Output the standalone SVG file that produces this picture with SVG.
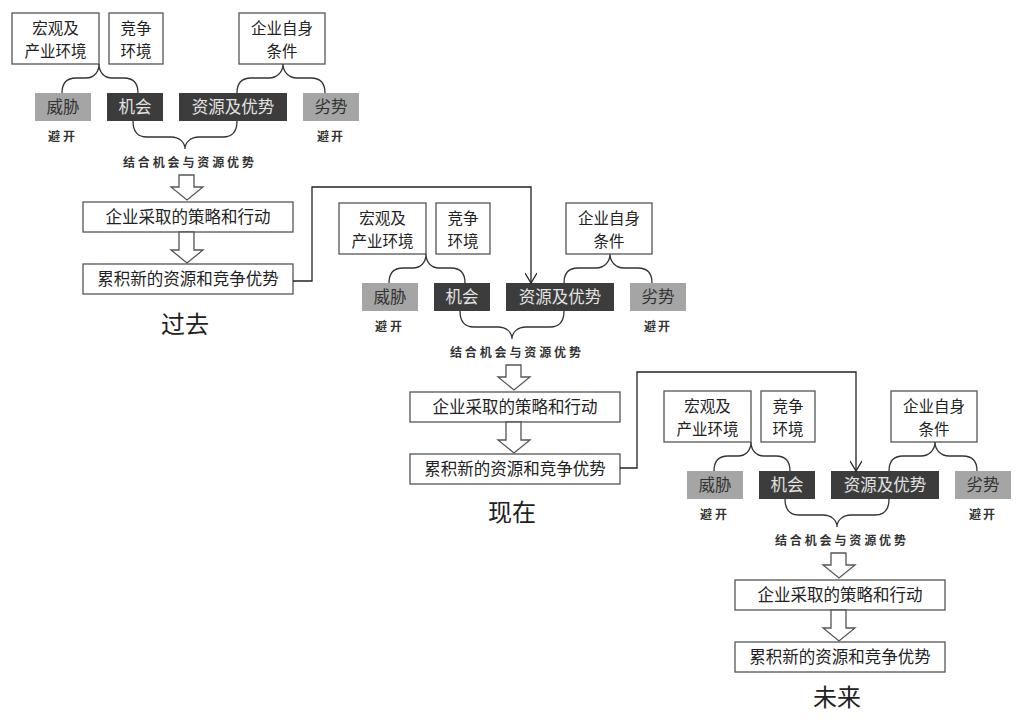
<svg xmlns="http://www.w3.org/2000/svg" width="1021" height="722" viewBox="0 0 1021 722">
<defs>
<style>
.box{fill:#fff;stroke:#555;stroke-width:1.3}
.gray{fill:#a5a5a5}
.dark{fill:#3c3c3c}
.t{font-family:"Noto Sans CJK SC",sans-serif;font-size:16.5px;fill:#222;text-anchor:middle}
.t2{font-size:15.5px}
.g{fill:#333}
.w{fill:#e2e2e2}
.s{font-family:"Noto Sans CJK SC",sans-serif;font-size:12px;font-weight:bold;fill:#333}
.title{font-family:"Noto Sans CJK SC",sans-serif;font-size:24px;fill:#222;text-anchor:middle}
.brace{fill:none;stroke:#333;stroke-width:1.3}
.hollow{fill:#fff;stroke:#555;stroke-width:1.3}
.line{fill:none;stroke:#222;stroke-width:1.3}
</style>
<marker id="arr" viewBox="0 0 12 12" refX="11" refY="6" markerWidth="12" markerHeight="12" orient="auto" markerUnits="userSpaceOnUse">
<path d="M1,0 L11,6 L1,12" fill="none" stroke="#222" stroke-width="1.3"/>
</marker>
</defs>
<rect width="1021" height="722" fill="#fff"/>

<!-- Block 1: past -->
<g id="block-past">
<g id="b1-macro"><rect class="box" x="12" y="13" width="87" height="51"/><text class="t t2" x="55.5" y="34">宏观及</text><text class="t t2" x="55.5" y="56.5">产业环境</text></g>
<g id="b1-comp"><rect class="box" x="109" y="13" width="54" height="51"/><text class="t t2" x="136" y="34">竞争</text><text class="t t2" x="136" y="56.5">环境</text></g>
<g id="b1-self"><rect class="box" x="239" y="13" width="86" height="51"/><text class="t t2" x="282" y="34">企业自身</text><text class="t t2" x="282" y="56.5">条件</text></g>
<g id="b1-threat"><rect class="gray" x="35" y="93" width="56" height="28"/><text class="t g" x="63" y="113">威胁</text></g>
<g id="b1-opp"><rect class="dark" x="107" y="93" width="56" height="28"/><text class="t w" x="135" y="113">机会</text></g>
<g id="b1-res"><rect class="dark" x="179" y="93" width="108" height="28"/><text class="t w" x="233" y="113">资源及优势</text></g>
<g id="b1-weak"><rect class="gray" x="303" y="93" width="56" height="28"/><text class="t g" x="331" y="113">劣势</text></g>
<g id="b1-avoid1"><text class="s" x="48" y="141" textLength="27" lengthAdjust="spacing">避开</text></g>
<g id="b1-avoid2"><text class="s" x="317" y="141" textLength="26" lengthAdjust="spacing">避开</text></g>
<g id="b1-combine"><text class="s" x="123" y="167" textLength="131" lengthAdjust="spacing">结合机会与资源优势</text></g>
<g id="b1-strat"><rect class="box" x="83" y="202" width="210" height="30"/><text class="t" x="188" y="223">企业采取的策略和行动</text></g>
<g id="b1-accum"><rect class="box" x="83" y="264" width="210" height="30"/><text class="t" x="188" y="285">累积新的资源和竞争优势</text></g>
<g id="b1-title"><text class="title" x="185" y="333">过去</text></g>
</g>

<!-- Block 2: present -->
<g id="block-present">
<g id="b2-macro"><rect class="box" x="339" y="203" width="87" height="51"/><text class="t t2" x="382.5" y="224">宏观及</text><text class="t t2" x="382.5" y="246.5">产业环境</text></g>
<g id="b2-comp"><rect class="box" x="436" y="203" width="54" height="51"/><text class="t t2" x="463" y="224">竞争</text><text class="t t2" x="463" y="246.5">环境</text></g>
<g id="b2-self"><rect class="box" x="566" y="203" width="86" height="51"/><text class="t t2" x="609" y="224">企业自身</text><text class="t t2" x="609" y="246.5">条件</text></g>
<g id="b2-threat"><rect class="gray" x="362" y="283" width="56" height="28"/><text class="t g" x="390" y="303">威胁</text></g>
<g id="b2-opp"><rect class="dark" x="434" y="283" width="56" height="28"/><text class="t w" x="462" y="303">机会</text></g>
<g id="b2-res"><rect class="dark" x="506" y="283" width="108" height="28"/><text class="t w" x="560" y="303">资源及优势</text></g>
<g id="b2-weak"><rect class="gray" x="630" y="283" width="56" height="28"/><text class="t g" x="658" y="303">劣势</text></g>
<g id="b2-avoid1"><text class="s" x="375" y="331" textLength="27" lengthAdjust="spacing">避开</text></g>
<g id="b2-avoid2"><text class="s" x="644" y="331" textLength="26" lengthAdjust="spacing">避开</text></g>
<g id="b2-combine"><text class="s" x="450" y="357" textLength="131" lengthAdjust="spacing">结合机会与资源优势</text></g>
<g id="b2-strat"><rect class="box" x="410" y="392" width="210" height="30"/><text class="t" x="515" y="413">企业采取的策略和行动</text></g>
<g id="b2-accum"><rect class="box" x="410" y="454" width="210" height="30"/><text class="t" x="515" y="475">累积新的资源和竞争优势</text></g>
<g id="b2-title"><text class="title" x="512" y="521">现在</text></g>
</g>

<!-- Block 3: future -->
<g id="block-future">
<g id="b3-macro"><rect class="box" x="664" y="391" width="87" height="51"/><text class="t t2" x="707.5" y="412">宏观及</text><text class="t t2" x="707.5" y="434.5">产业环境</text></g>
<g id="b3-comp"><rect class="box" x="761" y="391" width="54" height="51"/><text class="t t2" x="788" y="412">竞争</text><text class="t t2" x="788" y="434.5">环境</text></g>
<g id="b3-self"><rect class="box" x="891" y="391" width="86" height="51"/><text class="t t2" x="934" y="412">企业自身</text><text class="t t2" x="934" y="434.5">条件</text></g>
<g id="b3-threat"><rect class="gray" x="687" y="471" width="56" height="28"/><text class="t g" x="715" y="491">威胁</text></g>
<g id="b3-opp"><rect class="dark" x="759" y="471" width="56" height="28"/><text class="t w" x="787" y="491">机会</text></g>
<g id="b3-res"><rect class="dark" x="831" y="471" width="108" height="28"/><text class="t w" x="885" y="491">资源及优势</text></g>
<g id="b3-weak"><rect class="gray" x="955" y="471" width="56" height="28"/><text class="t g" x="983" y="491">劣势</text></g>
<g id="b3-avoid1"><text class="s" x="700" y="519" textLength="27" lengthAdjust="spacing">避开</text></g>
<g id="b3-avoid2"><text class="s" x="969" y="519" textLength="26" lengthAdjust="spacing">避开</text></g>
<g id="b3-combine"><text class="s" x="775" y="545" textLength="131" lengthAdjust="spacing">结合机会与资源优势</text></g>
<g id="b3-strat"><rect class="box" x="735" y="580" width="210" height="30"/><text class="t" x="840" y="601">企业采取的策略和行动</text></g>
<g id="b3-accum"><rect class="box" x="735" y="642" width="210" height="30"/><text class="t" x="840" y="663">累积新的资源和竞争优势</text></g>
<g id="b3-title"><text class="title" x="837" y="706">未来</text></g>
</g>

<!-- Connectors -->
<g id="connectors">
<g id="c-b1" transform="translate(0,0)">
<path class="brace" d="M62,93 C62,84 66,78 76,78 L86,78 C94,78 99,72 99,64 C99,72 104,78 112,78 L124,78 C134,78 138,84 138,93"/>
<path class="brace" d="M237,93 C237,84 241,78 251,78 L269,78 C277,78 283,72 283,64 C283,72 289,78 297,78 L311,78 C321,78 325,84 325,93"/>
<path class="brace" d="M133,121 C133,131 137,137 147,137 L171,137 C179,137 185,142 185,149 C185,142 191,137 199,137 L223,137 C233,137 237,131 237,121"/>
<polygon class="hollow" points="179,175 194,175 194,187 203,187 187,200 171,187 179,187"/>
<polygon class="hollow" points="179,232 194,232 194,250 203,250 187,263 171,250 179,250"/>
</g>
<g id="c-b2" transform="translate(327,190)">
<path class="brace" d="M62,93 C62,84 66,78 76,78 L86,78 C94,78 99,72 99,64 C99,72 104,78 112,78 L124,78 C134,78 138,84 138,93"/>
<path class="brace" d="M237,93 C237,84 241,78 251,78 L269,78 C277,78 283,72 283,64 C283,72 289,78 297,78 L311,78 C321,78 325,84 325,93"/>
<path class="brace" d="M133,121 C133,131 137,137 147,137 L171,137 C179,137 185,142 185,149 C185,142 191,137 199,137 L223,137 C233,137 237,131 237,121"/>
<polygon class="hollow" points="179,175 194,175 194,187 203,187 187,200 171,187 179,187"/>
<polygon class="hollow" points="179,232 194,232 194,250 203,250 187,263 171,250 179,250"/>
</g>
<g id="c-b3" transform="translate(652,378)">
<path class="brace" d="M62,93 C62,84 66,78 76,78 L86,78 C94,78 99,72 99,64 C99,72 104,78 112,78 L124,78 C134,78 138,84 138,93"/>
<path class="brace" d="M237,93 C237,84 241,78 251,78 L269,78 C277,78 283,72 283,64 C283,72 289,78 297,78 L311,78 C321,78 325,84 325,93"/>
<path class="brace" d="M133,121 C133,131 137,137 147,137 L171,137 C179,137 185,142 185,149 C185,142 191,137 199,137 L223,137 C233,137 237,131 237,121"/>
<polygon class="hollow" points="179,175 194,175 194,187 203,187 187,200 171,187 179,187"/>
<polygon class="hollow" points="179,232 194,232 194,250 203,250 187,263 171,250 179,250"/>
</g>
<path id="c-past-present" class="line" d="M293,281 H312 V187 H531 V283" marker-end="url(#arr)"/>
<path id="c-present-future" class="line" d="M620,468 H637 V372 H856 V471" marker-end="url(#arr)"/>
</g>
</svg>
